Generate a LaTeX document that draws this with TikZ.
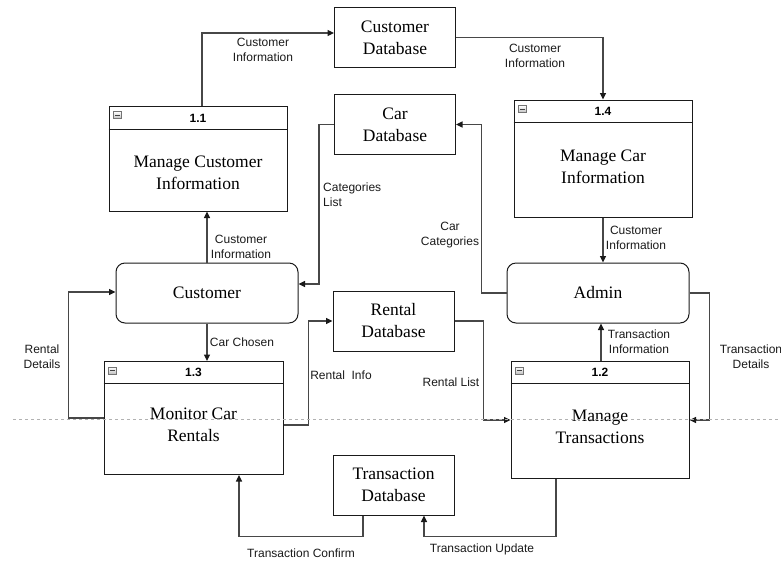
\documentclass[tikz,border=0pt]{standalone}
\usepackage{fontspec}
\setmainfont{Liberation Serif}
\setsansfont{Liberation Sans}
\usetikzlibrary{arrows.meta}
\definecolor{edge}{HTML}{474747}
\definecolor{ink}{HTML}{1A1A1A}
\begin{document}
\begin{tikzpicture}[x=1pt,y=-1pt,
  store/.style={draw=ink,line width=1pt,fill=white,minimum width=121pt,minimum height=60pt,
    inner sep=0pt,align=center,font=\fontsize{17.5}{22}\selectfont},
  proc/.style={draw=ink,line width=1pt,fill=white,minimum width=178pt,inner sep=0pt},
  ptext/.style={align=center,inner sep=0pt,font=\fontsize{17.5}{22}\selectfont},
  hdr/.style={inner sep=0pt,font=\sffamily\bfseries\fontsize{12}{14}\selectfont},
  actor/.style={draw=ink,line width=1pt,fill=white,rounded corners=9pt,minimum width=182pt,
    minimum height=60pt,inner sep=0pt,font=\fontsize{17.5}{22}\selectfont},
  icon/.style={draw=black!55,line width=0.5pt,top color=white,bottom color=black!25,
    minimum width=8pt,minimum height=7pt,inner sep=0pt,
    path picture={\draw[line width=1pt,black!75]
      ([xshift=1.8pt]path picture bounding box.west) -- ([xshift=-1.8pt]path picture bounding box.east);}},
  lbl/.style={align=center,inner sep=0pt,text=ink,font=\sffamily\fontsize{12}{15}\selectfont},
  flow/.style={draw=edge,line width=1.2pt,-{Triangle[length=6.5pt,width=6pt,color=ink]}},
  divider/.style={draw=black!30,line width=0.8pt,dash pattern=on 3pt off 3pt}
]
\useasboundingbox (0,0) rectangle (781,563);

% data stores
\node[store] (cdb) at (395,37.5) {Customer\\Database};
\node[store] (cardb) at (395,124.5) {Car\\Database};
\node[store] (rdb) at (393.5,321) {Rental\\Database};
\node[store] (tdb) at (393.5,485) {Transaction\\Database};

% external entities
\node[actor] (cust) at (207,293) {Customer};
\node[actor] (admin) at (598,293) {Admin};

% processes: box, header rule, number, collapse icon, title
\node[proc,minimum height=105pt] (p11) at (198,158.5) {};
\draw[ink,line width=1pt] ([yshift=-24pt]p11.north west) -- ([yshift=-24pt]p11.north east);
\node[hdr] (h11) at ([yshift=-12.5pt]p11.north) {1.1};
\node[icon] (i11) at ([xshift=9pt,yshift=-9.5pt]p11.north west) {};
\node[ptext] (t11) at (198,173) {Manage Customer\\Information};

\node[proc,minimum height=117pt] (p14) at (603,158.5) {};
\draw[ink,line width=1pt] ([yshift=-23pt]p14.north west) -- ([yshift=-23pt]p14.north east);
\node[hdr] (h14) at ([yshift=-11.5pt]p14.north) {1.4};
\node[icon] (i14) at ([xshift=9pt,yshift=-9.5pt]p14.north west) {};
\node[ptext] (t14) at (603,167) {Manage Car\\Information};

\node[proc,minimum width=179pt,minimum height=113pt] (p13) at (193.5,418) {};
\draw[ink,line width=1pt] ([yshift=-22.5pt]p13.north west) -- ([yshift=-22.5pt]p13.north east);
\node[hdr] (h13) at ([yshift=-11.5pt]p13.north) {1.3};
\node[icon] (i13) at ([xshift=9pt,yshift=-9.5pt]p13.north west) {};
\node[ptext] (t13) at (193.5,425) {Monitor Car\\Rentals};

\node[proc,minimum height=117pt] (p12) at (600,420) {};
\draw[ink,line width=1pt] ([yshift=-22.5pt]p12.north west) -- ([yshift=-22.5pt]p12.north east);
\node[hdr] (h12) at ([yshift=-11.5pt]p12.north) {1.2};
\node[icon] (i12) at ([xshift=9pt,yshift=-9.5pt]p12.north west) {};
\node[ptext] (t12) at (600,427) {Manage\\Transactions};

% data flows
\draw[flow] ([xshift=4pt]p11.north) |- ([yshift=4.5pt]cdb.west);
\draw[flow] (cdb.east) -| (p14.north);
\draw[flow] (cust.north) -- (cust.north |- p11.south);
\draw[flow] (cardb.west) -- ++(-15,0) |- ([yshift=9pt]cust.east);
\draw[flow] (admin.west) -- ++(-25,0) |- (cardb.east);
\draw[flow] (p14.south) -- (p14.south |- admin.north);
\draw[flow] (cust.south) -- (cust.south |- p13.north);
\draw[flow] (p13.west) -- ++(-35,0) |- ([yshift=1pt]cust.west);
\draw[flow] ([yshift=-7pt]p13.east) -- ++(25,0) |- (rdb.west);
\draw[flow] (rdb.east) -- ++(29,0) |- (p12.west);
\draw[flow] ([xshift=1pt]p12.north) -- ([xshift=1pt]p12.north |- admin.south);
\draw[flow] (admin.east) -- ++(20,0) |- (p12.east);
\draw[flow] ([xshift=-30.5pt]tdb.south) -- ++(0,21) -| ([xshift=45.5pt]p13.south);
\draw[flow] ([xshift=-44pt]p12.south) -- ++(0,57.5) -| ([xshift=30.5pt]tdb.south);

% flow labels
\node[lbl] (l1) at (263,50) {Customer\\Information};
\node[lbl] (l2) at (535,56) {Customer\\Information};
\node[lbl] (l3) at (241,246.5) {Customer\\Information};
\node[lbl,align=left,anchor=west] (l4) at (323,195) {Categories\\List};
\node[lbl] (l5) at (450,235.5) {Car\\Categories};
\node[lbl] (l6) at (636,237.5) {Customer\\Information};
\node[lbl] (l7) at (242,342) {Car Chosen};
\node[lbl] (l8) at (42,356.5) {Rental\\Details};
\node[lbl] (l9) at (341,375) {Rental\ \ Info};
\node[lbl] (l10) at (451,382) {Rental List};
\node[lbl] (l11) at (639,342) {Transaction\\Information};
\node[lbl] (l12) at (751,356.5) {Transaction\\Details};
\node[lbl] (l13) at (301,553) {Transaction Confirm};
\node[lbl] (l14) at (482,549.5) {Transaction Update};

% page divider
\coordinate (gl) at (13,419.5);
\coordinate (gr) at (781,419.5);
\draw[divider] (gl) -- (gr);
\end{tikzpicture}
\end{document}
